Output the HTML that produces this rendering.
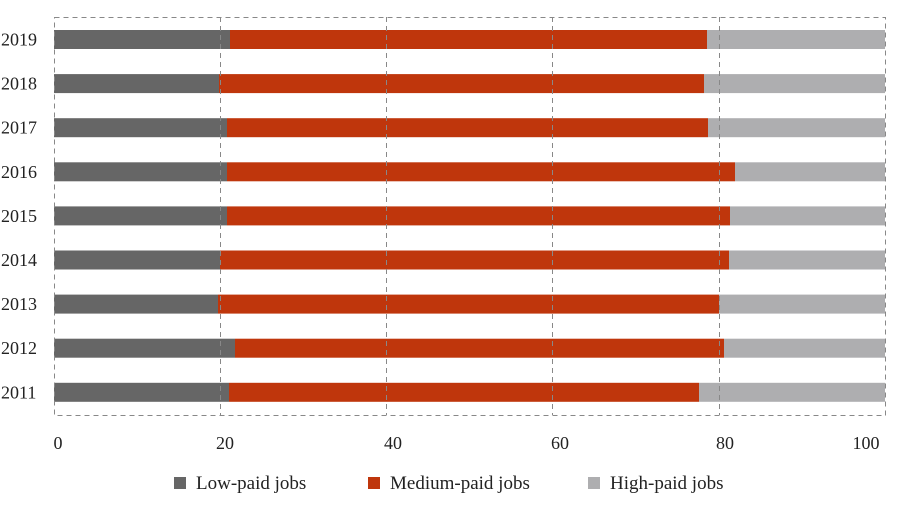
<!DOCTYPE html>
<html><head><meta charset="utf-8"><style>
body{margin:0;background:#fff}
svg text{font-family:"Liberation Serif",serif;font-size:18px;fill:#222}
</style></head><body>
<svg width="900" height="501" xmlns="http://www.w3.org/2000/svg">
<g id="bars"></g>
<g stroke="#888" stroke-width="1" stroke-dasharray="5,4" fill="none">
<rect x="54.5" y="17.5" width="831" height="398"/>
<line x1="220.5" y1="17" x2="220.5" y2="415"/>
<line x1="386.5" y1="17" x2="386.5" y2="415"/>
<line x1="552.5" y1="17" x2="552.5" y2="415"/>
<line x1="719.5" y1="17" x2="719.5" y2="415"/>
</g>
<g text-anchor="middle">
<text x="58" y="449">0</text><text x="225" y="449">20</text><text x="393" y="449">40</text>
<text x="560" y="449">60</text><text x="725" y="449">80</text><text x="866" y="449">100</text>
</g>
<g style="font-size:19px">
<rect x="174" y="477" width="12" height="12" fill="#666"/><text x="196" y="489" style="font-size:19px">Low-paid jobs</text>
<rect x="368" y="477" width="12" height="12" fill="#bf360c"/><text x="390" y="489" style="font-size:19px">Medium-paid jobs</text>
<rect x="588" y="477" width="12" height="12" fill="#aeaeb0"/><text x="610" y="489" style="font-size:19px">High-paid jobs</text>
</g>
<g id="labels"></g>
</svg>
<script>
var d=[["2019",230,707],["2018",219,704],["2017",227,708],["2016",227,735],["2015",227,730],["2014",220,729],["2013",218,719],["2012",235,724],["2011",229,699]];
var b="",l="";
d.forEach(function(r,i){var c=39.5+i*44.1,y=c-9.5;
b+='<rect x="54" y="'+y+'" width="'+(r[1]-54)+'" height="19" fill="#666"/>';
b+='<rect x="'+r[1]+'" y="'+y+'" width="'+(r[2]-r[1])+'" height="19" fill="#bf360c"/>';
b+='<rect x="'+r[2]+'" y="'+y+'" width="'+(885-r[2])+'" height="19" fill="#aeaeb0"/>';
l+='<text x="1" y="'+(c+6)+'">'+r[0]+'</text>';});
document.getElementById("bars").innerHTML=b;document.getElementById("labels").innerHTML=l;
</script>
</body></html>
